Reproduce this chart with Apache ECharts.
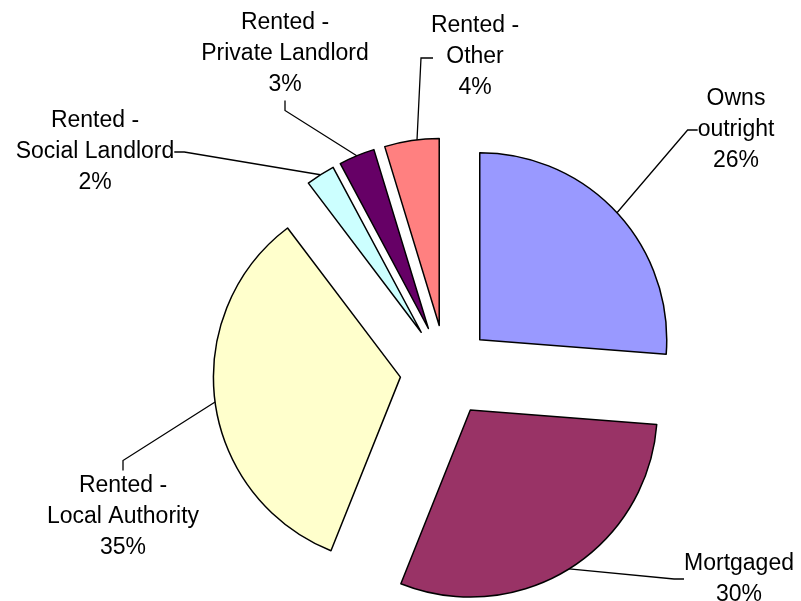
<!DOCTYPE html>
<html>
<head>
<meta charset="utf-8">
<script src="https://cdn.jsdelivr.net/npm/echarts@6/dist/echarts.min.js"></script>
<style>html,body{margin:0;padding:0;background:#fff;}#c{width:801px;height:601px;}</style>
</head>
<body>
<div id="c"></div>
<script>
const categories = ['Owns\noutright', 'Mortgaged', 'Rented -\nLocal Authority', 'Rented -\nSocial Landlord', 'Rented -\nPrivate Landlord', 'Rented -\nOther'];
// slice shares as drawn in the picture (angles measured)
const values = [26.2, 29.8, 33.6, 2.5, 3.1, 4.7];
// percentage texts as printed on the picture
const percentLabels = ['26%', '30%', '35%', '2%', '3%', '4%'];
const colors = ['#9999FF', '#993366', '#FFFFCC', '#CCFFFF', '#660066', '#FF8080'];

// layout / styling constants
const CENTER = [446, 371];
const RADIUS = 187;
const EXPLODE = 46;
const labelPos = [[736, 130], [739, 579], [123, 517], [95, 152], [285, 54], [475, 57]];

const total = values.reduce((a, b) => a + b, 0);
let cum = 0;
const series = values.map((v, k) => {
  const mid = (cum + v / 2) / total * Math.PI * 2;
  cum += v;
  const cx = CENTER[0] + Math.sin(mid) * EXPLODE;
  const cy = CENTER[1] - Math.cos(mid) * EXPLODE;
  return {
    type: 'pie',
    center: [cx, cy],
    radius: RADIUS,
    startAngle: 90,
    clockwise: true,
    silent: true,
    avoidLabelOverlap: false,
    emphasis: {disabled: true},
    itemStyle: {borderColor: '#000', borderWidth: 1.5},
    label: {
      show: true,
      position: 'outside',
      formatter: p => p.name + '\n' + percentLabels[p.dataIndex],
      fontFamily: 'Liberation Sans, Arial, sans-serif',
      fontSize: 23,
      lineHeight: 31,
      color: '#000',
      align: 'center'
    },
    labelLine: {show: true, length: 20, length2: 10, lineStyle: {color: '#000', width: 1.3}},
    labelLayout: function (params) {
      if (params.dataIndex !== k) return {};
      const pos = labelPos[k];
      const out = {x: pos[0], y: pos[1], align: 'center', verticalAlign: 'middle'};
      if (k === 5) out.labelLinePoints = [[417, 140], [421, 58], [433, 58]];
      return out;
    },
    data: categories.map((c, i) => i === k ? {
      name: c,
      value: values[i],
      itemStyle: {color: colors[i]}
    } : {
      name: c,
      value: values[i],
      itemStyle: {opacity: 0, borderWidth: 0},
      label: {show: false},
      labelLine: {show: false}
    })
  };
});

const chart = echarts.init(document.getElementById('c'), null, {renderer: 'canvas'});
chart.setOption({
  animation: false,
  backgroundColor: '#fff',
  series: series
});
</script>
</body>
</html>
